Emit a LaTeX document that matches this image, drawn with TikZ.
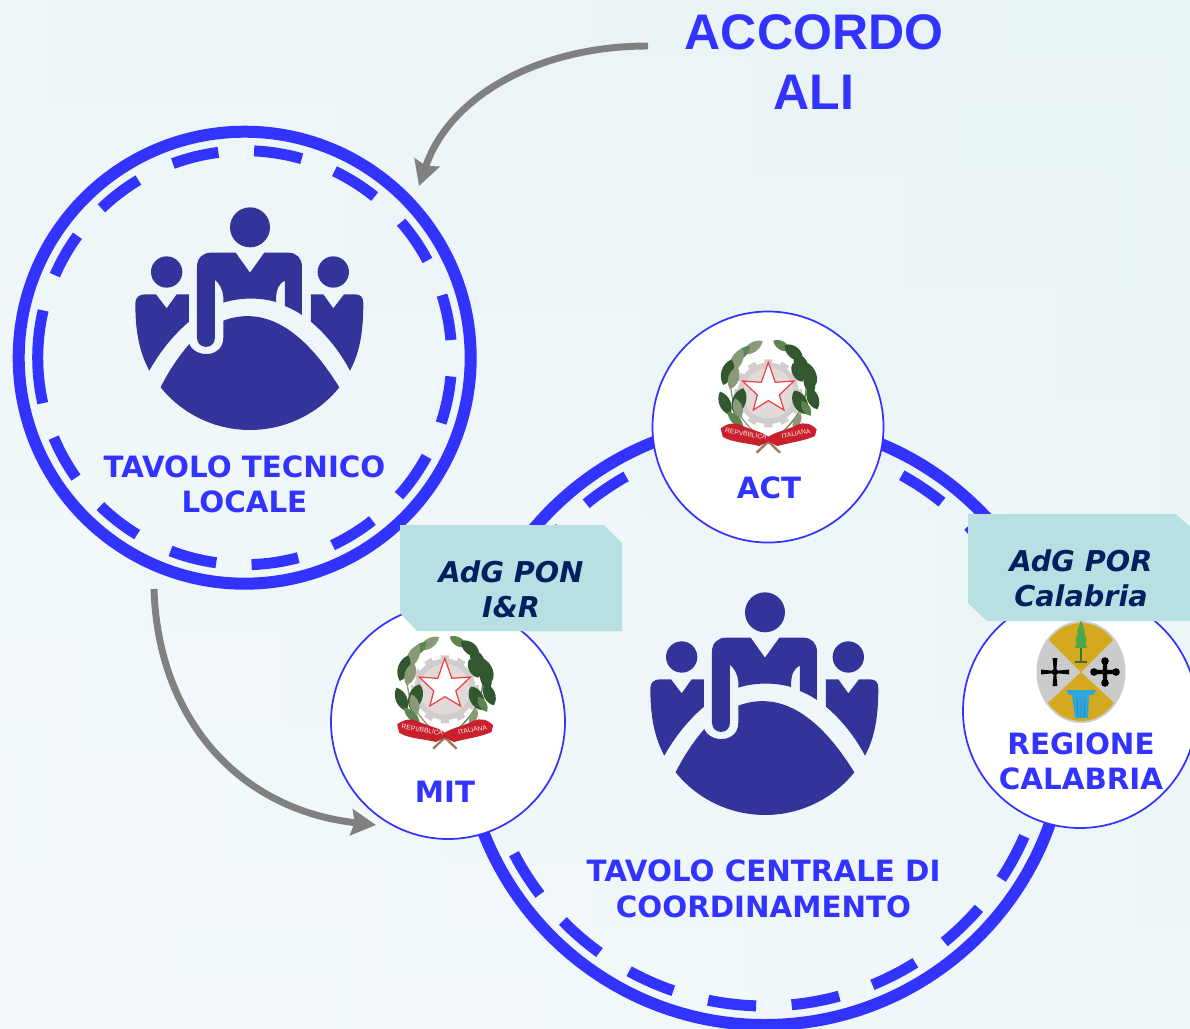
\documentclass[tikz,border=0pt]{standalone}
\usepackage{fontspec}
\setmainfont{DejaVu Sans}
\newfontfamily\arialf{Liberation Sans}
\usetikzlibrary{arrows.meta,calc}
\definecolor{bluemain}{HTML}{3333FF}
\definecolor{icon}{HTML}{333399}
\definecolor{navy}{HTML}{002060}
\definecolor{tag}{HTML}{B8DFE2}
\definecolor{arrowgray}{HTML}{808080}
\definecolor{gearc}{HTML}{D2CCCC}
\definecolor{gearin}{HTML}{E2DADA}
\definecolor{redc}{HTML}{C8202C}
\definecolor{leafd}{HTML}{33582F}
\definecolor{leafm}{HTML}{5E8550}
\definecolor{leafl}{HTML}{8A9A78}
\definecolor{stemc}{HTML}{9A7B5A}
\definecolor{goldc}{HTML}{D4A920}
\definecolor{greyc}{HTML}{CBCBCB}
\definecolor{bgtop}{HTML}{E8F3F6}
\definecolor{bgmid}{HTML}{EDF6F9}
\definecolor{bgbot}{HTML}{F1F8FB}
\definecolor{colblue}{HTML}{2FA6DC}
\definecolor{treeg}{HTML}{4CA64C}
\tikzset{
  ringnode/.style={circle,draw=bluemain,line width=9pt,inner sep=0pt,minimum size=#1*0.75pt},
  smallnode/.style={circle,draw=bluemain,line width=1.3pt,fill=white,inner sep=0pt,minimum size=#1*0.75pt},
  dashseg/.style={draw=bluemain,line width=8.25pt},
  lab/.style={text=bluemain,font=\fontsize{22pt}{26pt}\selectfont\bfseries,align=center,inner sep=0pt},
  labc/.style={text=bluemain,font=\fontsize{22pt}{27pt}\selectfont\bfseries,align=center,inner sep=0pt},
  taglab/.style={text=navy,font=\fontsize{21.5pt}{26.5pt}\selectfont\bfseries\itshape,align=center,inner sep=0pt},
  tagbox/.style={fill=tag},
  ribtext/.style={text=white!92!red,font=\arialf\fontsize{5pt}{6pt}\selectfont,inner sep=0pt},
  flow/.style={draw=arrowgray,line width=5.2pt,-{Stealth[length=18.5pt,width=19.5pt,inset=2.5pt]}},
  personicon/.pic={
    \fill[icon] (390,112) circle[radius=60];
    \fill[icon] (140,246) circle[radius=47];
    \fill[icon] (640,246) circle[radius=47];
    \fill[icon] (272,188) -- (347,188) -- (390,248) -- (433,188) -- (505,188)
      .. controls (530,188) and (546,205) .. (546,230) -- (546,375)
      .. controls (530,364) and (512,355) .. (495,348) -- (495,272)
      .. controls (475,282) and (468,298) .. (468,336)
      .. controls (420,322) and (360,322) .. (310,338) -- (310,320)
      .. controls (308,298) and (298,280) .. (285,270) -- (285,443)
      .. controls (285,480) and (231,480) .. (231,443) -- (231,230)
      .. controls (231,205) and (248,188) .. (272,188) -- cycle;
    \fill[icon] (122,592) .. controls (145,545) and (175,500) .. (208,462)
      .. controls (225,505) and (310,505) .. (310,443) -- (310,392)
      .. controls (410,355) and (530,385) .. (658,592)
      .. controls (593,673) and (494,720) .. (390,720)
      .. controls (286,720) and (187,673) .. (122,592) -- cycle;
    \fill[icon] (75,313) -- (108,313) -- (140,355) -- (170,313) -- (207,313) -- (207,395)
      .. controls (160,435) and (120,485) .. (88,542)
      .. controls (60,490) and (46,430) .. (46,340)
      .. controls (46,322) and (58,313) .. (75,313) -- cycle;
    \fill[icon] (705,313) -- (672,313) -- (640,355) -- (610,313) -- (573,313) -- (573,395)
      .. controls (620,435) and (660,485) .. (690,542)
      .. controls (718,490) and (730,430) .. (730,340)
      .. controls (730,322) and (722,313) .. (705,313) -- cycle;
  },
  emblem/.pic={
    \foreach \a in {0,30,...,330}{
      \fill[gearc] ($(205,190)+(\a-8:84)$) -- ($(205,190)+(\a-7:103)$) -- ($(205,190)+(\a+7:103)$) -- ($(205,190)+(\a+8:84)$) -- cycle;
    }
    \fill[gearc] (205,190) circle[radius=92];
    \fill[gearin] (205,190) circle[radius=76];
    \fill[white,draw=red!70!gearc,line width=0.9pt]
      (205,97) -- (226,157) -- (282,153) -- (238,195) -- (252,240) -- (205,212)
      -- (160,240) -- (172,195) -- (128,153) -- (184,157) -- cycle;
    \draw[leafl,line width=1pt] (165,42) .. controls (70,110) and (55,235) .. (205,340);
    \draw[leafm,line width=1pt] (240,42) .. controls (345,110) and (355,235) .. (205,340);
    \foreach \xa/\ya/\xb/\yb/\bb/\cc in {
      188/33/128/72/45/leafl,150/48/105/90/45/leafm,128/55/92/128/45/leafl,95/88/70/165/50/leafd,
      112/110/90/178/50/leafl,60/185/90/255/50/leafd,130/175/104/252/60/leafd,
      105/205/122/265/50/leafl,82/245/130/292/40/leafm,
      220/32/270/62/50/leafm,255/45/308/90/60/leafd,285/72/322/132/65/leafd,
      305/95/345/168/65/leafd,278/100/308/155/60/leafd,318/130/338/190/60/leafd,
      325/172/352/238/55/leafd,283/182/318/252/65/leafd,305/212/332/258/50/leafm,
      302/248/280/298/45/leafl}{
      \fill[\cc] (\xa,\ya) to[bend left=\bb] (\xb,\yb) to[bend left=\bb] (\xa,\ya);
    }
    \draw[stemc,line width=1.8pt] (190,320) -- (240,368) (220,320) -- (170,368);
    \fill[redc] (62,295) .. controls (85,278) and (105,278) .. (122,285)
      .. controls (160,302) and (185,305) .. (205,320)
      .. controls (228,305) and (262,300) .. (290,285)
      .. controls (310,276) and (330,278) .. (350,298) -- (345,318)
      .. controls (315,332) and (270,338) .. (232,348)
      -- (205,335) -- (178,348)
      .. controls (140,338) and (95,338) .. (68,320) -- cycle;
    \node[ribtext,rotate=-9] (rib1) at (138,312) {REPVBBLICA};
    \node[ribtext,rotate=10] (rib2) at (288,311) {ITALIANA};
  },
  calabria/.pic={
    \begin{scope}
    \fill[greyc] (0,0) ellipse[x radius=44.5,y radius=51];
    \clip (0,0) ellipse[x radius=42.5,y radius=49];
    \fill[goldc] (0,0) -- (-60,-60) -- (60,-60) -- cycle;
    \fill[goldc] (0,0) -- (-60,56) -- (60,56) -- cycle;
    \end{scope}
    \draw[treeg!70!black,line width=0.9pt] (0,-24) -- (0,-10) (-6,-10) -- (6,-10);
    \fill[treeg] (0,-52) -- (4,-40) -- (3,-40) -- (6,-31) -- (4,-31) -- (6,-24) -- (-6,-24) -- (-4,-31) -- (-6,-31) -- (-3,-40) -- (-4,-40) -- cycle;
    \begin{scope}[shift={(-26,0)}]
      \fill[black] (-14,-2.4) -- (-3,-1.4) -- (-1.4,-3) -- (-2.4,-14) -- (2.4,-14) -- (1.4,-3) -- (3,-1.4) -- (14,-2.4)
        -- (14,2.4) -- (3,1.4) -- (1.4,3) -- (2.4,14) -- (-2.4,14) -- (-1.4,3) -- (-3,1.4) -- (-14,2.4) -- cycle;
    \end{scope}
    \begin{scope}[shift={(24,0)}]
      \fill[black] (-11,-2.2) rectangle (11,2.2) (-2.2,-11) rectangle (2.2,11);
      \foreach \p in {(-11,0),(11,0),(0,-11),(0,11)} \fill[black] \p circle[radius=3.8];
    \end{scope}
    \fill[colblue] (-15,18) -- (15,18) -- (12,23) -- (-12,23) -- cycle;
    \fill[colblue] (-9,23) -- (8,23) -- (7,46) -- (-6,46) -- cycle;
    \draw[colblue!70!black,line width=0.3pt] (-4,25) -- (-3,45) (0,25) -- (0,45) (4,25) -- (3.5,45);
  }
}
\begin{document}
\begin{tikzpicture}[x=0.75pt,y=-0.75pt]
\clip (0,0) rectangle (1190,1029);
\shade[top color=bgtop,middle color=bgmid,bottom color=bgbot] (0,0) rectangle (1190,1029);
\shade[left color=white,right color=bgtop,opacity=0.25] (0,0) rectangle (1190,1029);

% central ring
\node[ringnode=604] (central) at (765,723) {};
\foreach \st in {23.6,40.9,57.9,74.8,91.8,108.9,125.8,142.7,159.8,176.9,193.9,213.8,230.8,248.5,265.5,282,298.9,315.9,333,350,7}{
  \pgfmathsetmacro{\en}{\st+9.8}
  \draw[dashseg] ($(central.center)+(\st:283)$) arc[start angle=\st,end angle=\en,radius=283];
}
% left ring
\node[ringnode=452] (left) at (244.7,357.7) {};
\foreach \st/\en in {-87.4/-74,-64.3/-51.1,-40.9/-28,-17.6/-4.9,5.2/18.4,28.5/41.8,51.9/64.9,75/88.1,97.9/111,121.3/134.2,144.6/157.3,167.3/193.2,203.5/216.1,226.2/239.1,249.7/262.7}{
  \draw[dashseg] ($(left.center)+(\st:207)$) arc[start angle=\st,end angle=\en,radius=207];
}
\pic[scale=0.3333] at (120,190) {personicon};
\pic[scale=0.3333] at (635,575) {personicon};

% small circles
\node[smallnode=231] (act) at (768,427) {};
\node[smallnode=234] (mit) at (448,722) {};
\node[smallnode=234] (reg) at (1080,711) {};

\pic[scale=0.3333] at (700,330) {emblem};
\pic[scale=0.3333] at (376.5,626) {emblem};
\pic at (1081,672) {calabria};

% tags
\fill[tagbox] (400,525) -- (604,525) -- (622,543) -- (622,631) -- (417,631) -- (400,613) -- cycle;
\fill[tagbox] (968,514) -- (1176,514) -- (1190,527) -- (1190,621) -- (987,621) -- (968,603) -- cycle;
\node[taglab] (pon) at (511,589) {AdG PON\\I\&R};
\node[taglab] (por) at (1081,578) {AdG POR\\Calabria};

% labels
\node[lab] (ltav) at (244.5,484.5) {TAVOLO TECNICO\\LOCALE};
\node[lab] (lact) at (769,488) {ACT};
\node[lab] (lmit) at (445,792) {MIT};
\node[lab] (lreg) at (1081,761) {REGIONE\\CALABRIA};
\node[labc] (lcen) at (763.5,889) {TAVOLO CENTRALE DI\\COORDINAMENTO};
\node[text=bluemain,font=\arialf\fontsize{37.5pt}{45pt}\selectfont\bfseries,align=center,inner sep=0pt] (acc) at (814,62) {ACCORDO\\ALI};

% arrows
\coordinate (a1s) at (648,46);
\coordinate (a1e) at (419,186);
\coordinate (a2s) at (154,589);
\coordinate (a2e) at (376,825);
\draw[flow] (a1s) .. controls (540,46) and (450,95) .. (a1e);
\draw[flow] (a2s) .. controls (158,720) and (240,810) .. (a2e);
\end{tikzpicture}
\end{document}
